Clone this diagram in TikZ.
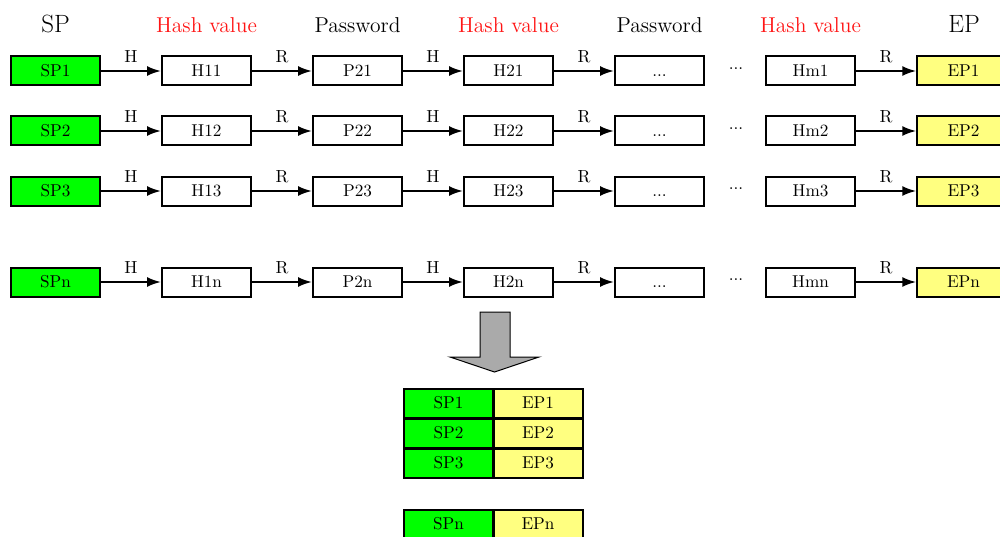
\documentclass[tikz,border=0pt]{standalone}
\usetikzlibrary{arrows.meta}
\definecolor{spgreen}{RGB}{0,255,0}
\definecolor{epyellow}{RGB}{255,255,128}
\definecolor{hashred}{RGB}{255,20,20}
\definecolor{flowgray}{RGB}{170,170,170}
\begin{document}
\begin{tikzpicture}[x=0.6pt,y=-0.6pt,
  box/.style={draw, line width=1.2pt, minimum width=53.4pt, minimum height=17.4pt,
    inner sep=0pt, text height=7pt, text depth=0pt, font=\fontsize{10.3}{12}\selectfont},
  spbox/.style={box, fill=spgreen},
  epbox/.style={box, fill=epyellow, minimum width=55.5pt},
  link/.style={-{Latex[length=8.4pt,width=6pt]}, line width=1.2pt},
  op/.style={midway, above, inner sep=0pt, yshift=4.3pt, font=\fontsize{10.5}{12}\selectfont},
  colhead/.style={anchor=base, font=\fontsize{12.9}{15}\selectfont},
  endhead/.style={anchor=base, font=\fontsize{15}{18}\selectfont},
  gapdots/.style={inner sep=0pt, font=\fontsize{10.3}{12}\selectfont},
]
\useasboundingbox (0,0) rectangle (1000,536);
\clip (0,0) rectangle (1000,536);

% column headings
\node[endhead] (hsp) at (55.5,33) {SP};
\node[colhead, text=hashred] (hh1) at (206.5,33) {Hash value};
\node[colhead] (hp1) at (357.5,33) {Password};
\node[colhead, text=hashred] (hh2) at (508.5,33) {Hash value};
\node[colhead] (hp2) at (659.5,33) {Password};
\node[colhead, text=hashred] (hh3) at (810.5,33) {Hash value};
\node[endhead] (hep) at (964,33) {EP};

% hash chains
\foreach \r/\y in {1/71, 2/131, 3/191, n/282} {
  \node[spbox] (sp\r) at (55.5,\y) {SP\r};
  \node[box] (ha\r) at (206.5,\y) {H1\r};
  \node[box] (pa\r) at (357.5,\y) {P2\r};
  \node[box] (hb\r) at (508.5,\y) {H2\r};
  \node[box] (dd\r) at (659.5,\y) {...};
  \node[gapdots] (gap\r) at (736,\y-2) {...};
  \node[box] (hm\r) at (810.5,\y) {Hm\r};
  \node[epbox] (ep\r) at (963.5,\y) {EP\r};
  \draw[link] (sp\r) -- node[op] {H} (ha\r);
  \draw[link] (ha\r) -- node[op] {R} (pa\r);
  \draw[link] (pa\r) -- node[op] {H} (hb\r);
  \draw[link] (hb\r) -- node[op] {R} (dd\r);
  \draw[link] (hm\r) -- node[op] {R} (ep\r);
}

% reduction to the stored table
\draw[fill=flowgray, line width=0.6pt]
  (480,312) -- (510,312) -- (510,357) -- (539,357) -- (494.5,372)
  -- (450,357) -- (480,357) -- cycle;

% start/end point table
\foreach \r/\y in {1/403, 2/433, 3/463, n/524} {
  \node[spbox] (tsp\r) at (448.5,\y) {SP\r};
  \node[box, fill=epyellow] (tep\r) at (538,\y) {EP\r};
}
\end{tikzpicture}
\end{document}
